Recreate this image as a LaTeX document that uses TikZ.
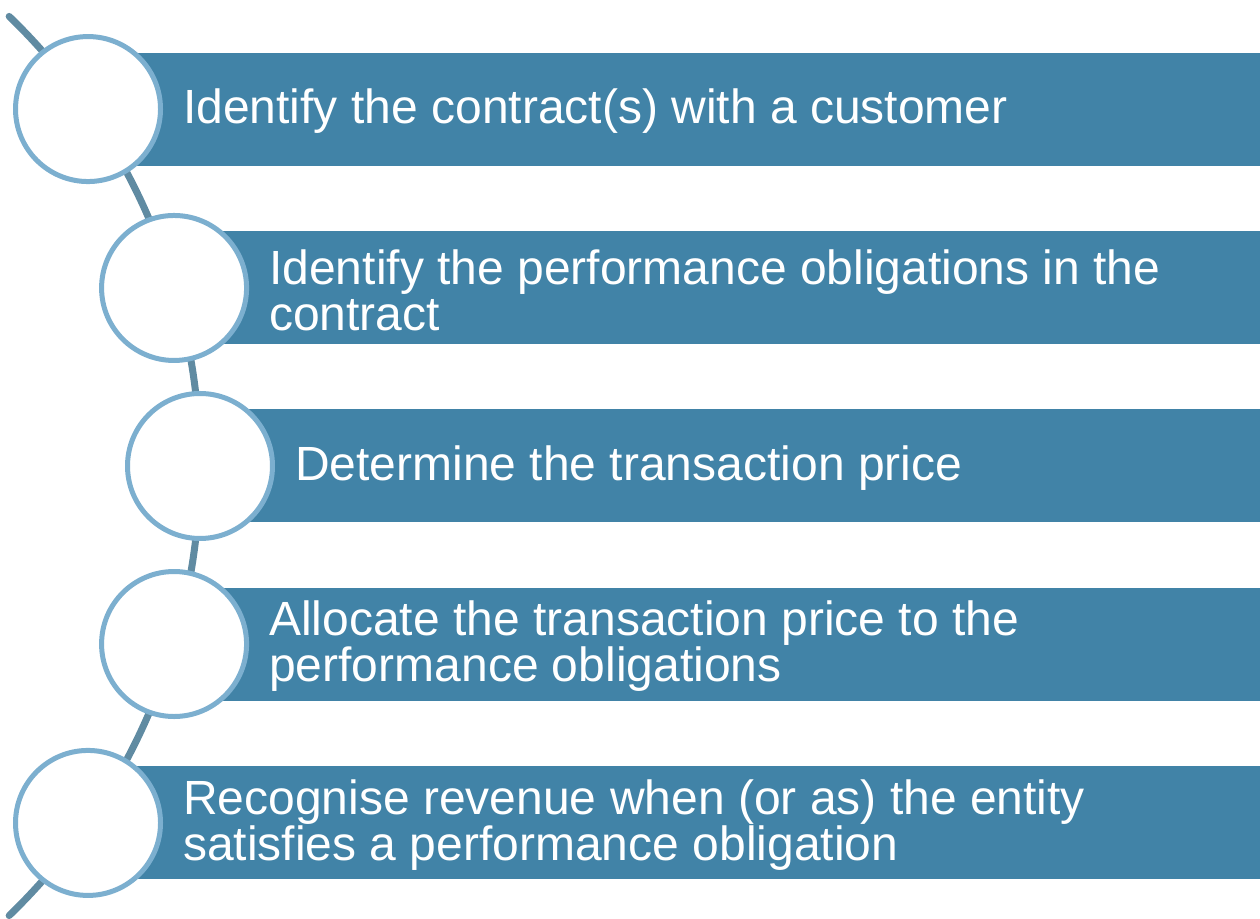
\documentclass[tikz,border=0pt]{standalone}
\usepackage{fontspec}
\setmainfont{Liberation Sans}
\usetikzlibrary{positioning}
\definecolor{barblue}{RGB}{65,131,167}
\definecolor{ringblue}{RGB}{124,175,207}
\definecolor{spinegray}{RGB}{96,139,162}
\tikzset{
    spine/.style={draw=spinegray, line width=7pt, line cap=round},
    stepbar/.style={fill=barblue, draw=none, anchor=west, minimum height=113pt, inner sep=0pt},
    ring/.style={circle, fill=white, draw=ringblue, line width=5pt, minimum size=145pt, inner sep=0pt},
    steptext/.style={text=white, anchor=west, align=left, inner sep=0pt, yshift=-2pt,
        font=\fontsize{48pt}{46pt}\selectfont}
}
\begin{document}
\begin{tikzpicture}[x=1pt, y=1pt]
    \useasboundingbox (0,0) rectangle (1260,918);
    % centre of the big arc the circles sit on
    \coordinate (ctr) at (-425,452);
    \path (ctr) ++(34.83:625) coordinate (p1);
    \path (ctr) ++(16.55:625) coordinate (p2);
    \path (ctr) ++(0:625) coordinate (p3);
    \path (ctr) ++(-16.55:625) coordinate (p4);
    \path (ctr) ++(-34.83:625) coordinate (p5);
    \path (ctr) ++(46:625) coordinate (top);
    \path (ctr) ++(-46:625) coordinate (bottom);
    \draw[spine] (top) arc[start angle=46, end angle=-46, radius=625];
    % bars
    \node[stepbar, minimum width=1172pt] (b1) at (p1) {};
    \node[stepbar, minimum width=1087pt] (b2) at (p2) {};
    \node[stepbar, minimum width=1060pt] (b3) at (p3) {};
    \node[stepbar, minimum width=1087pt] (b4) at (p4) {};
    \node[stepbar, minimum width=1172pt] (b5) at (p5) {};
    % circles
    \node[ring] (c1) at (p1) {};
    \node[ring] (c2) at (p2) {};
    \node[ring] (c3) at (p3) {};
    \node[ring] (c4) at (p4) {};
    \node[ring] (c5) at (p5) {};
    % texts
    \node[steptext, right=20pt of c1] (t1) {Identify the contract(s) with a customer};
    \node[steptext, right=20pt of c2] (t2) {Identify the performance obligations in the\\contract};
    \node[steptext, right=20pt of c3] (t3) {Determine the transaction price};
    \node[steptext, right=20pt of c4] (t4) {Allocate the transaction price to the\\performance obligations};
    \node[steptext, right=20pt of c5] (t5) {Recognise revenue when (or as) the entity\\satisfies a performance obligation};
\end{tikzpicture}
\end{document}
